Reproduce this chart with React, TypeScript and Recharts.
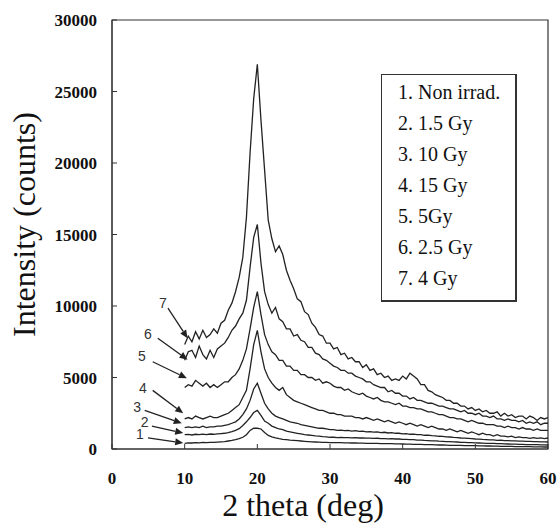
import {
  LineChart,
  Line,
  XAxis,
  YAxis,
  ReferenceArea,
  ReferenceLine,
  ReferenceDot,
  Legend,
  Label,
} from "recharts";

const SERIF = '"Liberation Serif", "Times New Roman", serif';
const INK = "#222";

// 2 theta (deg)
const twoTheta = [
  10, 10.5, 11, 11.5, 12, 12.5, 13, 13.5, 14, 14.5,
  15, 15.5, 16, 16.5, 17, 17.5, 18, 18.5, 19, 19.5,
  20, 20.5, 21, 21.5, 22, 22.5, 23, 23.5, 24, 24.5,
  25, 25.5, 26, 26.5, 27, 27.5, 28, 28.5, 29, 29.5,
  30, 30.5, 31, 31.5, 32, 32.5, 33, 33.5, 34, 34.5,
  35, 35.5, 36, 36.5, 37, 37.5, 38, 38.5, 39, 39.5,
  40, 40.5, 41, 41.5, 42, 42.5, 43, 43.5, 44, 44.5,
  45, 45.5, 46, 46.5, 47, 47.5, 48, 48.5, 49, 49.5,
  50, 50.5, 51, 51.5, 52, 52.5, 53, 53.5, 54, 54.5,
  55, 55.5, 56, 56.5, 57, 57.5, 58, 58.5, 59, 59.5,
  60,
];

// 1. Non irrad.
const nonIrrad = [
  400, 430, 420, 450, 430, 460, 440, 470, 460, 480,
  500, 520, 560, 600, 650, 720, 820, 1000, 1300, 1450,
  1450, 1400, 1150, 950, 850, 780, 720, 680, 650, 620,
  600, 580, 560, 540, 520, 500, 490, 480, 470, 460,
  450, 450, 440, 440, 430, 430, 420, 420, 410, 410,
  400, 400, 390, 390, 380, 380, 370, 370, 360, 360,
  350, 340, 340, 330, 320, 320, 310, 300, 300, 290,
  280, 280, 270, 260, 260, 250, 250, 240, 240, 230,
  230, 220, 220, 210, 210, 200, 200, 190, 190, 180,
  180, 170, 170, 160, 160, 160, 150, 150, 150, 140,
  140,
];

// 2. 1.5 Gy
const gy1_5 = [
  1000, 1020, 980, 1030, 1000, 1040, 1010, 1050, 1030, 1060,
  1080, 1100, 1150, 1220, 1300, 1420, 1650, 1900, 2200, 2550,
  2700, 2350, 1950, 1800, 1600, 1500, 1400, 1350, 1250, 1200,
  1150, 1100, 1050, 1000, 980, 950, 920, 900, 870, 850,
  820, 820, 800, 810, 790, 800, 780, 790, 770, 780,
  760, 760, 740, 750, 730, 730, 710, 720, 700, 700,
  680, 670, 650, 650, 620, 620, 600, 590, 570, 570,
  550, 540, 520, 520, 500, 490, 470, 470, 450, 450,
  430, 420, 410, 400, 390, 390, 370, 370, 360, 350,
  340, 340, 330, 320, 310, 310, 300, 300, 290, 290,
  280,
];

// 3. 10 Gy
const gy10 = [
  1500, 1550, 1500, 1550, 1500, 1600, 1500, 1550, 1550, 1600,
  1600, 1650, 1700, 1800, 1900, 2100, 2400, 2800, 3400, 4200,
  4600, 3900, 3200, 2800, 2500, 2300, 2200, 2100, 2000, 1900,
  1850, 1800, 1700, 1650, 1600, 1550, 1500, 1450, 1450, 1400,
  1350, 1350, 1300, 1320, 1280, 1300, 1250, 1280, 1230, 1250,
  1200, 1220, 1180, 1200, 1150, 1170, 1120, 1140, 1100, 1100,
  1060, 1080, 1030, 1040, 1000, 1000, 960, 970, 930, 920,
  890, 880, 850, 840, 810, 800, 770, 760, 740, 720,
  700, 690, 670, 660, 640, 640, 610, 620, 590, 590,
  570, 570, 550, 550, 530, 530, 510, 520, 500, 500,
  490,
];

// 4. 15 Gy
const gy15 = [
  2100, 2200, 2100, 2300, 2200, 2100, 2200, 2300, 2200, 2200,
  2300, 2400, 2500, 2700, 2900, 3100, 3600, 4100, 5600, 7300,
  8300, 6800, 5600, 5000, 4600, 4300, 4100, 4300, 3800, 3600,
  3400, 3300, 3200, 3100, 3000, 2900, 2800, 2700, 2700, 2600,
  2500, 2500, 2400, 2400, 2300, 2300, 2300, 2200, 2200, 2100,
  2200, 2100, 2000, 2100, 2000, 1900, 2000, 1900, 1800, 1900,
  1800, 1700, 1800, 1700, 1600, 1700, 1600, 1500, 1600, 1500,
  1400, 1400, 1300, 1400, 1300, 1200, 1300, 1200, 1100, 1200,
  1100, 1000, 1100, 1000, 1000, 900, 1000, 900, 900, 850,
  900, 800, 850, 800, 800, 750, 800, 750, 780, 720,
  770,
];

// 5. 5Gy
const gy5 = [
  4300, 4500, 4400, 4800, 4600, 4400, 4600, 4300, 4500, 4300,
  4500, 4700, 4700, 5000, 5200, 5600, 6200, 7000, 8400, 9900,
  11000, 9400, 8000, 7300, 6800, 6600, 6200, 6200, 5800, 5800,
  5500, 5500, 5200, 5200, 5000, 5000, 4800, 4900, 4600, 4700,
  4600, 4400, 4300, 4300, 4100, 4200, 4000, 3900, 3800, 3900,
  3700, 3600, 3500, 3600, 3400, 3300, 3300, 3200, 3100, 3200,
  3000, 3000, 2900, 2900, 2800, 2800, 2700, 2600, 2600, 2500,
  2400, 2400, 2300, 2200, 2200, 2100, 2100, 2000, 1900, 2000,
  1900, 1800, 1800, 1700, 1700, 1700, 1600, 1600, 1500, 1600,
  1500, 1500, 1400, 1500, 1400, 1400, 1300, 1400, 1300, 1300,
  1300,
];

// 6. 2.5 Gy
const gy2_5 = [
  6200, 6800, 6900, 6400, 7200, 6600, 6300, 6900, 6400, 7000,
  7200, 7400, 7800, 8300, 8600, 9100, 9500, 10400, 12700, 14800,
  15700, 13000, 11000, 10100, 9500, 9900, 9100, 8900, 8400, 8400,
  7900, 8000, 7600, 7500, 7100, 7100, 6700, 6600, 6300, 6200,
  6000, 5800, 5700, 5500, 5500, 5300, 5300, 5100, 5000, 4900,
  4700, 4700, 4500, 4400, 4300, 4300, 4000, 4100, 3900, 3900,
  3700, 3700, 3500, 3600, 3400, 3400, 3300, 3200, 3200, 3100,
  3000, 3000, 2900, 2800, 2800, 2700, 2600, 2700, 2500, 2500,
  2400, 2500, 2300, 2300, 2200, 2300, 2100, 2100, 2000, 2100,
  2000, 2000, 1900, 2000, 1800, 1900, 1800, 1900, 1700, 1800,
  1800,
];

// 7. 4 Gy
const gy4 = [
  7300, 7900, 7500, 8200, 7700, 8300, 7800, 8000, 8400, 8100,
  8800, 9000, 9700, 10200, 11000, 12000, 13400, 16200, 20700, 24500,
  26900, 23000, 19500, 16000, 14700, 13800, 14200, 13600, 12500, 11800,
  11200, 10500, 10300, 9600, 9400, 8800, 8500, 8000, 7900, 7400,
  7400, 7000, 7100, 6600, 6700, 6300, 6400, 6100, 6100, 5700,
  5900, 5500, 5600, 5200, 5300, 5000, 5100, 4800, 4900, 4800,
  5100, 4900, 5300, 5100, 4900, 4500, 4500, 4100, 4000, 3800,
  3700, 3600, 3400, 3400, 3200, 3200, 3000, 3000, 2800, 2900,
  2700, 2800, 2600, 2700, 2500, 2500, 2600, 2300, 2500, 2300,
  2400, 2200, 2300, 2300, 2100, 2300, 2200, 2000, 2200, 2100,
  2200,
];

const seriesKeys = ["s1", "s2", "s3", "s4", "s5", "s6", "s7"];
const seriesNames = [
  "1. Non irrad.",
  "2. 1.5 Gy",
  "3. 10 Gy",
  "4. 15 Gy",
  "5. 5Gy",
  "6. 2.5 Gy",
  "7. 4 Gy",
];
const seriesValues = [nonIrrad, gy1_5, gy10, gy15, gy5, gy2_5, gy4];

const xTicks = [0, 10, 20, 30, 40, 50, 60];
const yTicks = [0, 5000, 10000, 15000, 20000, 25000, 30000];

// numbered arrows pointing at the start of each curve (data coordinates)
const arrowLabels = ["7", "6", "5", "4", "3", "2", "1"];
const labelX = [7.0, 4.95, 4.1, 4.25, 3.45, 4.5, 3.85];
const labelY = [10200, 8050, 6500, 4250, 2950, 1900, 1050];
const arrowFromX = [7.7, 6.3, 5.6, 5.6, 4.5, 5.5, 4.95];
const arrowFromY = [9850, 7750, 6100, 4100, 2700, 1600, 780];
const arrowToX = [10.4, 10.4, 10.3, 9.8, 9.6, 9.8, 9.8];
const arrowToY = [7750, 6250, 4950, 2500, 1800, 1120, 420];

const data = twoTheta.map((x, i) => {
  const row: Record<string, number> = { x };
  seriesKeys.forEach((k, j) => {
    row[k] = seriesValues[j][i];
  });
  return row;
});

function ArrowShape(props: any) {
  const { x1, y1, x2, y2 } = props;
  const ang = Math.atan2(y2 - y1, x2 - x1);
  const len = 8;
  const half = 3.5;
  const bx = x2 - len * Math.cos(ang);
  const by = y2 - len * Math.sin(ang);
  const ox = -Math.sin(ang) * half;
  const oy = Math.cos(ang) * half;
  return (
    <g>
      <line x1={x1} y1={y1} x2={bx} y2={by} stroke={INK} strokeWidth={1.3} />
      <polygon
        points={`${x2},${y2} ${bx + ox},${by + oy} ${bx - ox},${by - oy}`}
        fill={INK}
      />
    </g>
  );
}

function LegendBox({ payload }: any) {
  return (
    <div
      style={{
        width: 136,
        height: 228,
        boxSizing: "border-box",
        border: "1px solid #333",
        borderRightWidth: 2,
        borderBottomWidth: 2,
        background: "#fff",
        paddingTop: 2,
        paddingLeft: 16,
        fontFamily: SERIF,
        fontSize: 20,
        color: "#111",
      }}
    >
      {(payload || []).map((p: any) => (
        <div key={p.value} style={{ height: 31, lineHeight: "31px", whiteSpace: "nowrap" }}>
          {p.value}
        </div>
      ))}
    </div>
  );
}

export default function App() {
  const tickStyle = { fontFamily: SERIF, fontSize: 17, fontWeight: 700, fill: "#111" };
  return (
    <div style={{ position: "absolute", left: 0, top: 0, background: "#fff" }}>
      <LineChart
        width={558}
        height={523}
        data={data}
        margin={{ top: 20, right: 10, bottom: 0, left: 0 }}
      >
        <XAxis
          dataKey="x"
          type="number"
          domain={[0, 60]}
          ticks={xTicks}
          allowDataOverflow
          height={74}
          tickSize={-5}
          tickMargin={28}
          stroke="#333"
          tick={tickStyle}
        >
          <Label
            content={({ viewBox }: any) => (
              <text
                x={viewBox.x + 191}
                y={viewBox.y + 67}
                textAnchor="middle"
                fontFamily={SERIF}
                fontSize={32}
                fill="#111"
              >
                2 theta (deg)
              </text>
            )}
          />
        </XAxis>
        <YAxis
          type="number"
          domain={[0, 30000]}
          ticks={yTicks}
          allowDataOverflow
          width={112}
          tickSize={-5}
          tickMargin={20}
          stroke="#333"
          tick={tickStyle}
        >
          <Label
            content={({ viewBox }: any) => {
              const cx = viewBox.x + 35;
              const cy = viewBox.y + viewBox.height / 2 - 10;
              return (
                <text
                  x={cx}
                  y={cy}
                  transform={`rotate(-90 ${cx} ${cy})`}
                  textAnchor="middle"
                  fontFamily={SERIF}
                  fontSize={32}
                  fill="#111"
                >
                  Intensity (counts)
                </text>
              );
            }}
          />
        </YAxis>
        <ReferenceArea
          x1={0}
          x2={60}
          y1={0}
          y2={30000}
          fill="none"
          fillOpacity={0}
          stroke="#333"
          strokeWidth={1.2}
        />
        {seriesKeys.map((k, j) => (
          <Line
            key={k}
            dataKey={k}
            name={seriesNames[j]}
            type="linear"
            stroke={INK}
            strokeWidth={1.3}
            dot={false}
            activeDot={false}
            isAnimationActive={false}
          />
        ))}
        {arrowLabels.map((lab, i) => (
          <ReferenceLine
            key={`a${lab}`}
            segment={[
              { x: arrowFromX[i], y: arrowFromY[i] },
              { x: arrowToX[i], y: arrowToY[i] },
            ]}
            stroke={INK}
            shape={ArrowShape}
          />
        ))}
        {arrowLabels.map((lab, i) => (
          <ReferenceDot
            key={`l${lab}`}
            x={labelX[i]}
            y={labelY[i]}
            r={0}
            shape={(p: any) => (
              <text
                x={p.cx}
                y={p.cy}
                textAnchor="middle"
                dominantBaseline="central"
                fontFamily='"Liberation Sans", Arial, sans-serif'
                fontSize={14}
                fill="#333"
              >
                {lab}
              </text>
            )}
          />
        ))}
        <Legend
          layout="vertical"
          align="center"
          verticalAlign="middle"
          content={<LegendBox />}
          wrapperStyle={{ left: 381, top: 74, width: 136, height: 228 }}
        />
      </LineChart>
    </div>
  );
}
